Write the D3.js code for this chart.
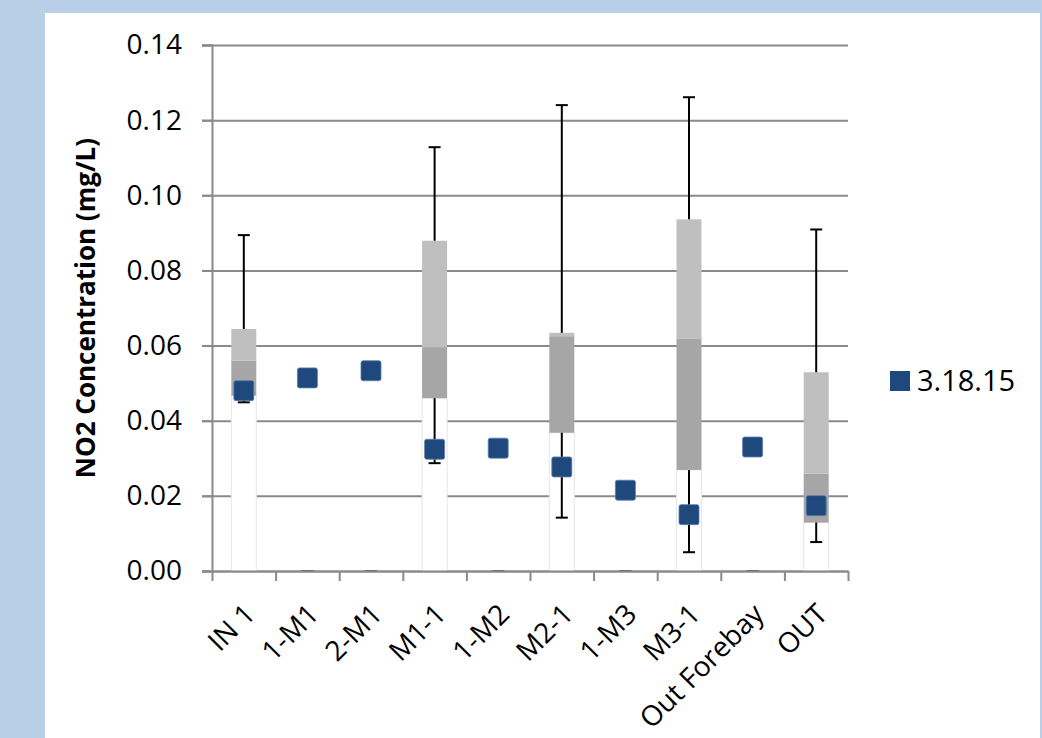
<!DOCTYPE html>
<html>
<head>
<meta charset="utf-8">
<script src="https://cdn.jsdelivr.net/npm/d3@7"></script>
<style>
  body { margin: 0; background: #b9cfe7; }
  #chart { position: absolute; left: 45px; top: 13px; width: 995px; height: 725px; background: #fff; }
  svg { position: absolute; left: 0; top: 0; }
  text { font-family: "Open Sans", "Liberation Sans", sans-serif; fill: #000; }
</style>
</head>
<body>
<div id="chart"></div>
<script>
const categories = ["IN 1", "1-M1", "2-M1", "M1-1", "1-M2", "M2-1", "1-M3", "M3-1", "Out Forebay", "OUT"];
const boxLow = [0.0467, 0, 0, 0.0460, 0, 0.0368, 0, 0.0269, 0, 0.0129];
const boxMid = [0.0560, 0, 0, 0.0596, 0, 0.0625, 0, 0.0619, 0, 0.0259];
const boxHigh = [0.0644, 0, 0, 0.0879, 0, 0.0634, 0, 0.0936, 0, 0.0529];
const whiskerMin = [0.0449, 0, 0, 0.0287, 0, 0.0142, 0, 0.0050, 0, 0.0077];
const whiskerMax = [0.0894, 0, 0, 0.1128, 0, 0.1240, 0, 0.1261, 0, 0.0909];
const sample = [0.0480, 0.0514, 0.0533, 0.0324, 0.0327, 0.0277, 0.0215, 0.0150, 0.0330, 0.0174];
const sampleName = "3.18.15";
const yTicks = [0, 0.02, 0.04, 0.06, 0.08, 0.10, 0.12, 0.14];

const rows = categories.map((c, i) => ({
    cat: c, low: boxLow[i], mid: boxMid[i], high: boxHigh[i],
    min: whiskerMin[i], max: whiskerMax[i], val: sample[i]
}));

const margin = { top: 45, left: 212 },
    width = 636,
    height = 526;

const svg = d3.select("#chart").append("svg")
    .attr("width", 995)
    .attr("height", 725)
    .append("g")
    .attr("transform", `translate(${margin.left - 45},${margin.top - 13})`);

const x = d3.scaleBand()
    .domain(categories)
    .range([0, width])
    .paddingInner(0.607)
    .paddingOuter(0.3035);

const xEdge = d3.scaleLinear().domain([0, categories.length]).range([0, width]);

const y = d3.scaleLinear()
    .domain([0, 0.14])
    .range([height, 0]);

const cx = d => x(d.cat) + x.bandwidth() / 2;

// gridlines, with the short tick stubs on the left
const grid = svg.append("g")
    .attr("transform", "translate(-10,0)")
    .call(d3.axisLeft(y).tickValues(yTicks).tickSize(-(width + 10)).tickFormat(""));
grid.select(".domain").remove();
grid.selectAll("line").style("stroke", "#8a8a8a").style("stroke-width", 2);

// stacked boxes: blank base, dark lower half, light upper half
svg.selectAll(".base").data(rows.filter(d => d.high > 0)).join("rect")
    .attr("x", d => x(d.cat))
    .attr("width", x.bandwidth())
    .attr("y", d => y(d.low))
    .attr("height", d => y(0) - y(d.low))
    .attr("fill", "#fff")
    .attr("stroke", "#e6e6e6")
    .attr("stroke-width", 1);

svg.selectAll(".lower").data(rows.filter(d => d.high > 0)).join("rect")
    .attr("x", d => x(d.cat))
    .attr("width", x.bandwidth())
    .attr("y", d => y(d.mid))
    .attr("height", d => y(d.low) - y(d.mid))
    .attr("fill", "#a6a6a6");

svg.selectAll(".upper").data(rows.filter(d => d.high > 0)).join("rect")
    .attr("x", d => x(d.cat))
    .attr("width", x.bandwidth())
    .attr("y", d => y(d.high))
    .attr("height", d => y(d.mid) - y(d.high))
    .attr("fill", "#bfbfbf");

// whiskers
const whisk = svg.append("g").attr("stroke", "#000").attr("stroke-width", 2);
whisk.selectAll(".wu").data(rows).join("line")
    .attr("x1", cx).attr("x2", cx)
    .attr("y1", d => y(d.high)).attr("y2", d => y(d.max));
whisk.selectAll(".wl").data(rows).join("line")
    .attr("x1", cx).attr("x2", cx)
    .attr("y1", d => y(d.low)).attr("y2", d => y(d.min));
whisk.selectAll(".cu").data(rows).join("line")
    .attr("x1", d => cx(d) - 6).attr("x2", d => cx(d) + 6)
    .attr("y1", d => y(d.max)).attr("y2", d => y(d.max))
    .attr("stroke", d => d.max > 0 ? "#000" : "#555");
whisk.selectAll(".cl").data(rows).join("line")
    .attr("x1", d => cx(d) - 6).attr("x2", d => cx(d) + 6)
    .attr("y1", d => y(d.min)).attr("y2", d => y(d.min))
    .attr("stroke", d => d.min > 0 ? "#000" : "#555");

// y axis
const yAxisGroup = svg.append("g")
    .call(d3.axisLeft(y).tickValues(yTicks).tickSize(10).tickPadding(20).tickFormat(d3.format(".2f")));
yAxisGroup.selectAll("line").style("stroke", "#8a8a8a").style("stroke-width", 2);
yAxisGroup.select(".domain").style("stroke", "#8a8a8a").style("stroke-width", 2);
yAxisGroup.selectAll("text").style("font-size", "28px").style("font-family", "'Open Sans', sans-serif");

// x axis: ticks on category edges
const xAxisGroup = svg.append("g")
    .attr("transform", `translate(0,${height})`)
    .call(d3.axisBottom(xEdge).tickValues(d3.range(categories.length + 1)).tickSize(10).tickSizeOuter(0).tickFormat(""));
xAxisGroup.selectAll("line").style("stroke", "#8a8a8a").style("stroke-width", 2);
xAxisGroup.select(".domain").style("stroke", "#8a8a8a").style("stroke-width", 2);

svg.append("g").selectAll("text").data(categories).join("text")
    .attr("transform", d => `translate(${x(d) + x.bandwidth() / 2 + 6},${height + 38}) rotate(-45)`)
    .attr("text-anchor", "end")
    .attr("dy", "0.35em")
    .style("font-size", "28px")
    .text(d => d);

// axis title
svg.append("text")
    .attr("transform", "rotate(-90)")
    .attr("x", -(308 - margin.top))
    .attr("y", -117)
    .attr("text-anchor", "middle")
    .style("font-size", "26px")
    .style("font-weight", "bold")
    .text("NO2 Concentration (mg/L)");

// sample markers
svg.selectAll(".pt").data(rows).join("rect")
    .attr("x", d => cx(d) - 10)
    .attr("y", d => y(d.val) - 10)
    .attr("width", 20)
    .attr("height", 20)
    .attr("rx", 2)
    .attr("fill", "#1f497d")
    .attr("stroke", "#5b7fae")
    .attr("stroke-width", 0.8);

// legend
const legend = svg.append("g").attr("transform", `translate(${900 - margin.left},${381 - margin.top})`);
legend.append("rect")
    .attr("x", -10).attr("y", -10).attr("width", 20).attr("height", 20)
    .attr("fill", "#1f497d");
legend.append("text")
    .attr("x", 17)
    .attr("dy", "0.36em")
    .style("font-size", "29px")
    .text(sampleName);
</script>
</body>
</html>
